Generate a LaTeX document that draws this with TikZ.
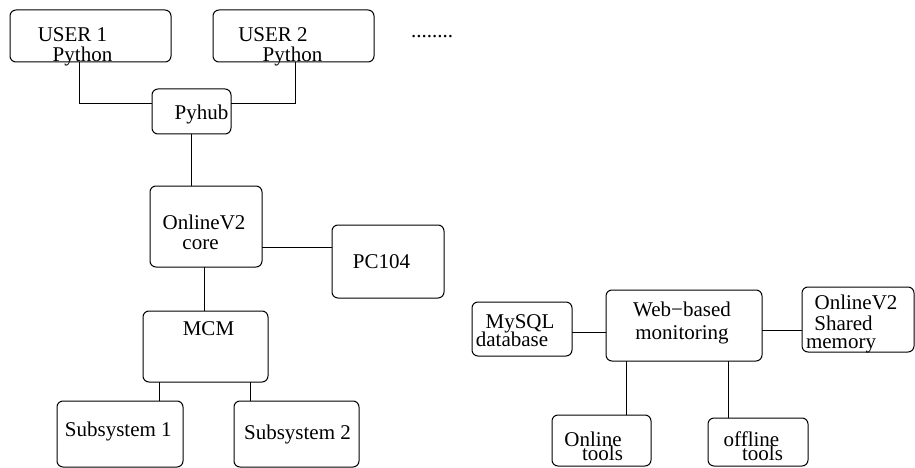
\documentclass[tikz,border=0pt]{standalone}
\usepackage{fontspec}
\setmainfont{Liberation Serif}
\begin{document}
\begin{tikzpicture}[x=1pt,y=-1pt,
  box/.style={draw=black,line width=1pt,rounded corners=6pt,inner sep=0pt,outer sep=0pt},
  lbl/.style={inner sep=0pt,anchor=base,font=\fontsize{21}{23}\selectfont},
  conn/.style={draw=black,line width=1pt}]
\useasboundingbox (0,0) rectangle (915,468);
% boxes
\node[box,minimum width=161pt,minimum height=52pt] (u1) at (90.5,36) {};
\node[box,minimum width=161pt,minimum height=52pt] (u2) at (293.5,36) {};
\node[box,minimum width=79pt,minimum height=45pt] (pyhub) at (191.5,111.5) {};
\node[box,minimum width=112pt,minimum height=81pt] (core) at (206,226.5) {};
\node[box,minimum width=112pt,minimum height=73pt] (pc) at (388,261.5) {};
\node[box,minimum width=125pt,minimum height=71pt] (mcm) at (205.5,346.5) {};
\node[box,minimum width=126pt,minimum height=66pt] (sub1) at (120,434) {};
\node[box,minimum width=125pt,minimum height=66pt] (sub2) at (296.5,434) {};
\node[box,minimum width=100pt,minimum height=54pt] (mysql) at (522,329) {};
\node[box,minimum width=156pt,minimum height=71pt] (web) at (684,325.5) {};
\node[box,minimum width=112pt,minimum height=65pt] (shm) at (858,319.5) {};
\node[box,minimum width=99pt,minimum height=51pt] (onl) at (601.5,440.5) {};
\node[box,minimum width=100pt,minimum height=48pt] (off) at (758,442) {};
% texts
\node[lbl] (t-u1a) at (72.5,41.7) {USER 1};
\node[lbl] (t-u1b) at (82.5,62) {Python};
\node[lbl] (t-u2a) at (273,41.7) {USER 2};
\node[lbl] (t-u2b) at (292.5,62) {Python};
\node[lbl] (t-dots) at (432,37.7) {........};
\node[lbl] (t-pyhub) at (201.5,120) {Pyhub};
\node[lbl] (t-corea) at (204,229.3) {OnlineV2};
\node[lbl] (t-coreb) at (200.5,249.3) {core};
\node[lbl] (t-pc) at (381.5,268.3) {PC104};
\node[lbl] (t-mcm) at (208.5,335.7) {MCM};
\node[lbl] (t-sub1) at (118.3,436) {Subsystem 1};
\node[lbl] (t-sub2) at (297.5,439) {Subsystem 2};
\node[lbl] (t-mya) at (520,328.3) {MySQL};
\node[lbl] (t-myb) at (512,346.7) {database};
\node[lbl] (t-weba) at (682,316) {Web−based};
\node[lbl] (t-webb) at (682,339) {monitoring};
\node[lbl] (t-shma) at (856,309.3) {OnlineV2};
\node[lbl] (t-shmb) at (843.5,330) {Shared};
\node[lbl] (t-shmc) at (841,348) {memory};
\node[lbl] (t-onla) at (593,446.7) {Online};
\node[lbl] (t-onlb) at (602.5,460) {tools};
\node[lbl] (t-offa) at (751.5,446.7) {offline};
\node[lbl] (t-offb) at (762.5,460) {tools};
% connectors
\draw[conn] ([xshift=-11.5pt]u1.south) |- ([yshift=7.5pt]pyhub.west);
\draw[conn] ([xshift=1.5pt]u2.south) |- ([yshift=7.5pt]pyhub.east);
\draw[conn] (pyhub.south) -- (pyhub.south |- core.north);
\draw[conn] ([yshift=-20.5pt]core.east) -- ([yshift=-20.5pt]core.east -| pc.west);
\draw[conn] ([xshift=-2pt]core.south) -- ([xshift=-2pt]core.south |- mcm.north);
\draw[conn] ([xshift=39pt]sub1.north) -- ([xshift=39pt]sub1.north |- mcm.south);
\draw[conn] ([xshift=-46.5pt]sub2.north) -- ([xshift=-46.5pt]sub2.north |- mcm.south);
\draw[conn] ([yshift=-3pt]mysql.east) -- ([yshift=-3pt]mysql.east -| web.west);
\draw[conn] ([yshift=-4.5pt]web.east) -- ([yshift=-4.5pt]web.east -| shm.west);
\draw[conn] ([xshift=-58pt]web.south) -- ([xshift=-58pt]web.south |- onl.north);
\draw[conn] ([xshift=44pt]web.south) -- ([xshift=44pt]web.south |- off.north);
\end{tikzpicture}
\end{document}
